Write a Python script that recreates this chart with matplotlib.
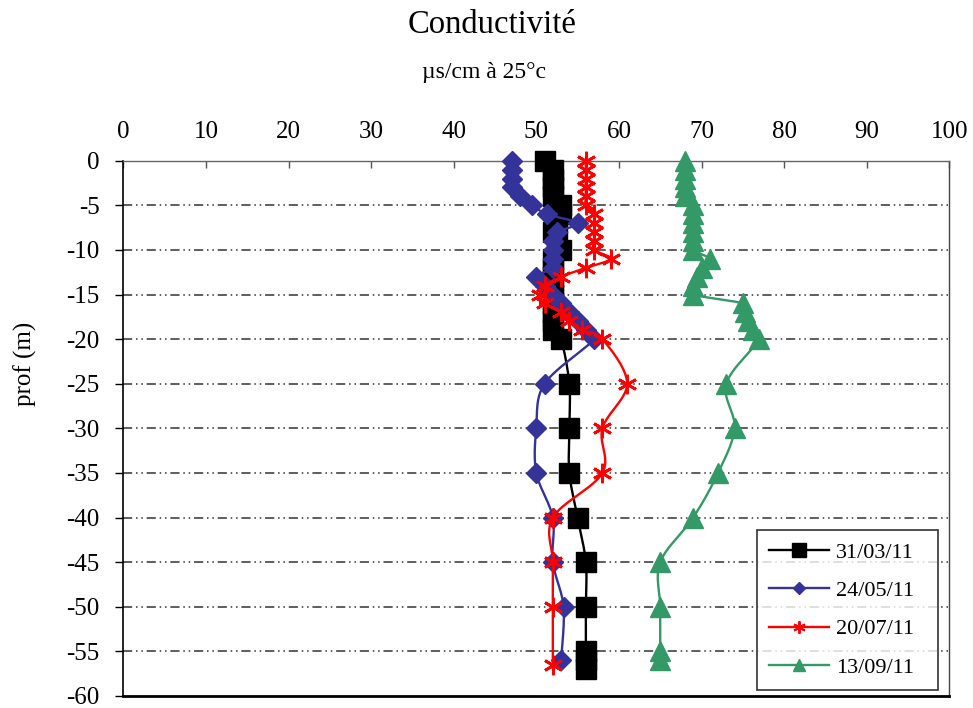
import numpy as np
import matplotlib
matplotlib.use("Agg")
import matplotlib.pyplot as plt
from matplotlib.lines import Line2D

plt.rcParams['font.family'] = ['Liberation Serif', 'DejaVu Serif']
plt.rcParams['axes.unicode_minus'] = False

# ---------------- data ----------------
labels = ["31/03/11", "24/05/11", "20/07/11", "13/09/11"]

depth_black = [0, -1, -2, -3, -4, -5, -6, -7, -8, -9, -10, -11, -12, -13, -14, -15, -16, -17, -18, -19, -20,
               -25, -30, -35, -40, -45, -50, -55, -56, -57]
cond_black = [51, 52, 52, 52, 52, 53, 53, 52.5, 52, 52.5, 53, 52, 52, 52, 52, 52, 52, 52, 52, 52, 53,
              54, 54, 54, 55, 56, 56, 56, 56, 56]

depth_blue = [0, -1, -2, -3, -4, -5, -6, -7, -8, -9, -10, -11, -12, -13, -14, -15, -16, -17, -18, -19, -20,
              -25, -30, -35, -40, -45, -50, -56]
cond_blue = [47, 47, 47, 47, 48, 49.5, 51.3, 55, 52.5, 52, 52, 52, 52, 50, 51, 52, 53, 54, 55, 56, 57,
             51, 50, 50, 52, 52, 53.3, 53]

depth_red = [0, -1, -2, -3, -4, -5, -6, -7, -8, -9, -10, -11, -12, -13, -14, -15, -16, -17, -18, -19, -20,
             -25, -30, -35, -40, -45, -50, -56.5]
cond_red = [56, 56, 56, 56, 56, 56, 57, 57, 57, 57, 57, 59, 56, 53, 51, 50.5, 51, 53, 54, 55.5, 58,
            61, 58, 58, 52, 52, 52, 52]

depth_green = [0, -1, -2, -3, -4, -5, -6, -7, -8, -9, -10, -11, -12, -13, -14, -15, -16, -17, -18, -19, -20,
               -25, -30, -35, -40, -45, -50, -55, -56]
cond_green = [68, 68, 68, 68, 68, 69, 69, 69, 69, 69, 69, 71, 70, 69.5, 69, 69, 75, 75.3, 75.6, 76.2, 77,
              73, 74, 72, 69, 65, 65, 65, 65]

x_ticks = [0, 10, 20, 30, 40, 50, 60, 70, 80, 90, 100]
y_ticks = [0, -5, -10, -15, -20, -25, -30, -35, -40, -45, -50, -55, -60]


def smooth(xs, ys, n=16):
    """Excel-like smoothed line (Catmull-Rom Bezier) through the points."""
    P = np.column_stack([np.asarray(xs, float), np.asarray(ys, float)])
    m = len(P)
    out = [P[0]]
    t = np.linspace(0, 1, n)[1:, None]
    for i in range(m - 1):
        p0 = P[i - 1] if i > 0 else P[i]
        p1 = P[i]
        p2 = P[i + 1]
        p3 = P[i + 2] if i + 2 < m else P[i + 1]
        c1 = p1 + (p2 - p0) / 6.0
        c2 = p2 - (p3 - p1) / 6.0
        seg = ((1 - t) ** 3) * p1 + 3 * ((1 - t) ** 2) * t * c1 + 3 * (1 - t) * t ** 2 * c2 + t ** 3 * p2
        out.extend(seg)
    out = np.array(out)
    return out[:, 0], out[:, 1]


fig = plt.figure(figsize=(9.73, 7.08), dpi=100)
ax = fig.add_axes([123.3 / 973, 1 - 696 / 708, (949.3 - 123.3) / 973, (696 - 160.7) / 708])

series = [
    (cond_black, depth_black, 'black', 's', 14, dict()),
    (cond_blue, depth_blue, '#333399', 'D', 10.5, dict()),
    (cond_red, depth_red, '#ff0000', (6, 2, 0), 14, dict(markeredgewidth=2)),
    (cond_green, depth_green, '#339966', '^', 14, dict()),
]

for i, (xv, yv, col, mk, ms, extra) in enumerate(series):
    sx, sy = smooth(xv, yv)
    ax.plot(sx, sy, color=col, lw=1.7, zorder=3 + i, clip_on=False, solid_capstyle='round')
    ax.plot(xv, yv, ls='none', marker=mk, ms=ms, color=col, markeredgecolor=col,
            zorder=3 + i, clip_on=False, **extra)

ax.set_xlim(0, 100)
ax.set_ylim(-60, 0)
ax.set_xticks(x_ticks)
ax.set_yticks(y_ticks)
ax.set_yticklabels([str(v) for v in y_ticks])
ax.xaxis.tick_top()
ax.tick_params(axis='x', direction='in', length=5, width=1, color='#555555', pad=13, labelsize=18)
ax.tick_params(axis='y', direction='out', length=6, width=1, color='black', pad=11, labelsize=18)

for yv in y_ticks[1:-1]:
    ax.axhline(yv, color='#333333', lw=1.1, ls=(0, (6, 2.5, 1, 2.5, 1, 2.5)), zorder=1)

ax.spines['top'].set_color('#666666')
ax.spines['top'].set_linewidth(1)
ax.spines['right'].set_color('#444444')
ax.spines['right'].set_linewidth(1)
ax.spines['left'].set_color('black')
ax.spines['left'].set_linewidth(1.2)
ax.spines['bottom'].set_color('black')
ax.spines['bottom'].set_linewidth(2)

ax.set_ylabel('prof (m)', fontsize=18)
ax.yaxis.set_label_coords(-0.105, 0.62)

fig.text(0.506, 0.965, 'Conductivité', ha='center', va='center', fontsize=23.5)
fig.text(0.497, 0.898, 'µs/cm à 25°c', ha='center', va='center', fontsize=17)

handles = [
    Line2D([], [], color='black', lw=1.7, marker='s', ms=9.5),
    Line2D([], [], color='#333399', lw=1.7, marker='D', ms=6),
    Line2D([], [], color='#ff0000', lw=1.7, marker=(6, 2, 0), ms=9, markeredgewidth=1.4),
    Line2D([], [], color='#339966', lw=1.7, marker='^', ms=9),
]
leg = fig.legend(handles, labels, loc='lower left',
                 bbox_to_anchor=(757 / 973, 1 - 690 / 708, (938 - 757) / 973, (690 - 535) / 708),
                 mode='expand', fontsize=16, frameon=True, fancybox=False, shadow=False,
                 handlelength=2.7, labelspacing=0.8, borderpad=0.55, handletextpad=0.3,
                 borderaxespad=0)
leg.get_frame().set_edgecolor('black')
leg.get_frame().set_linewidth(1.2)
leg.set_zorder(20)

fig.savefig('out.png', dpi=100)
